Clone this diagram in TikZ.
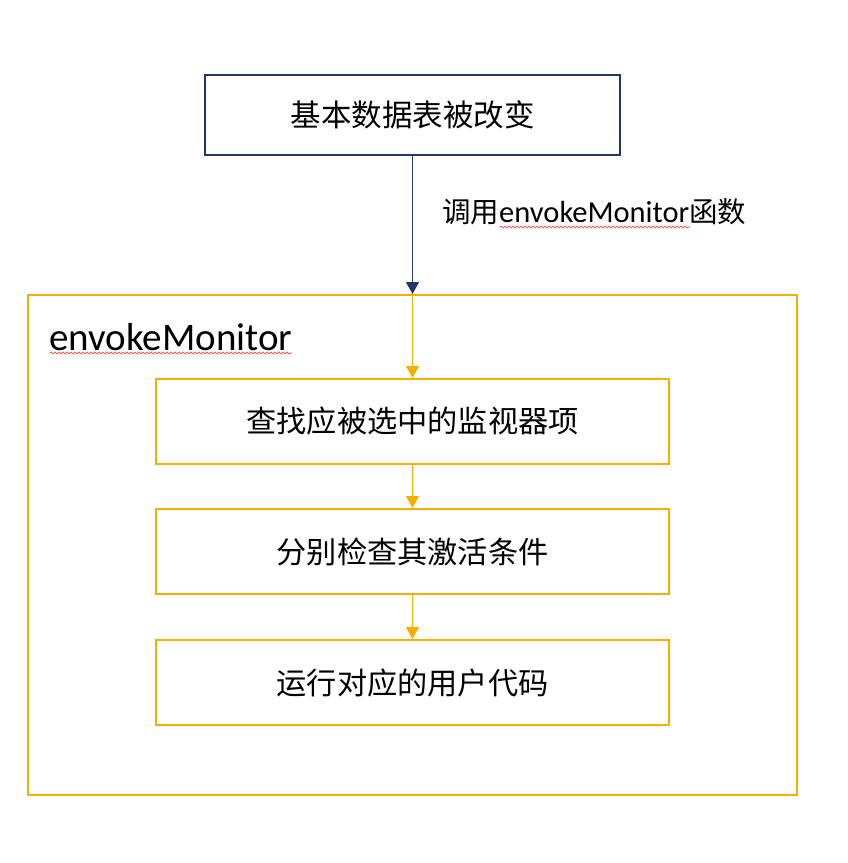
\documentclass[tikz,border=0pt]{standalone}
\usepackage{fontspec}
\setmainfont{Carlito}
\newfontfamily\cjk{Noto Sans CJK SC}
\usetikzlibrary{arrows.meta,decorations.pathmorphing}
\definecolor{navy}{HTML}{1F3864}
\definecolor{gold}{HTML}{F6AE00}
\begin{document}
\begin{tikzpicture}[x=1pt,y=-1pt,
  topbox/.style={draw=navy,line width=2pt,minimum width=415pt,minimum height=80pt,inner sep=0pt,font=\fontsize{30.5}{33}\selectfont\cjk},
  stepbox/.style={draw=gold,line width=2pt,minimum width=513pt,minimum height=85pt,inner sep=0pt,font=\fontsize{30.2}{33}\selectfont\cjk},
  frame/.style={draw=gold,line width=2pt,minimum width=769pt,minimum height=500pt,inner sep=0pt},
  navyarrow/.style={draw=navy,line width=1pt,-{Triangle[width=13pt,length=12pt]}},
  goldarrow/.style={draw=gold,line width=1pt,-{Triangle[width=13pt,length=12pt]}},
  squiggle/.style={draw=red!85,line width=0.6pt,decorate,decoration={snake,amplitude=1pt,segment length=4pt}}]
\useasboundingbox (0,0) rectangle (847,863);
\node[frame] (outer) at (412.5,545) {};
\node[topbox] (top) at (412.5,115) {基本数据表被改变};
\node[stepbox] (s1) at (412.5,421.5) {查找应被选中的监视器项};
\node[stepbox] (s2) at (412.5,551.5) {分别检查其激活条件};
\node[stepbox] (s3) at (412.5,682.5) {运行对应的用户代码};
\node[anchor=west,inner sep=0pt,font=\fontsize{39}{42}\selectfont] (title) at (49,337) {envokeMonitor};
\node[anchor=west,inner sep=0pt,font=\fontsize{30.5}{33}\selectfont] (call) at (442,212) {{\fontsize{28.5}{33}\selectfont\cjk 调用}envokeMonitor{\fontsize{28.5}{33}\selectfont\cjk 函数}};
\coordinate (entry) at (outer.north -| s1.north);
\draw[navyarrow] (top.south) -- (entry);
\draw[goldarrow] (entry) -- (s1.north);
\draw[goldarrow] (s1.south) -- (s2.north);
\draw[goldarrow] (s2.south) -- (s3.north);
\coordinate (u1a) at (50,353);
\coordinate (u1b) at (292,353);
\coordinate (u2a) at (500,227);
\coordinate (u2b) at (690,227);
\draw[squiggle] (u1a) -- (u1b);
\draw[squiggle] (u2a) -- (u2b);
\end{tikzpicture}
\end{document}
